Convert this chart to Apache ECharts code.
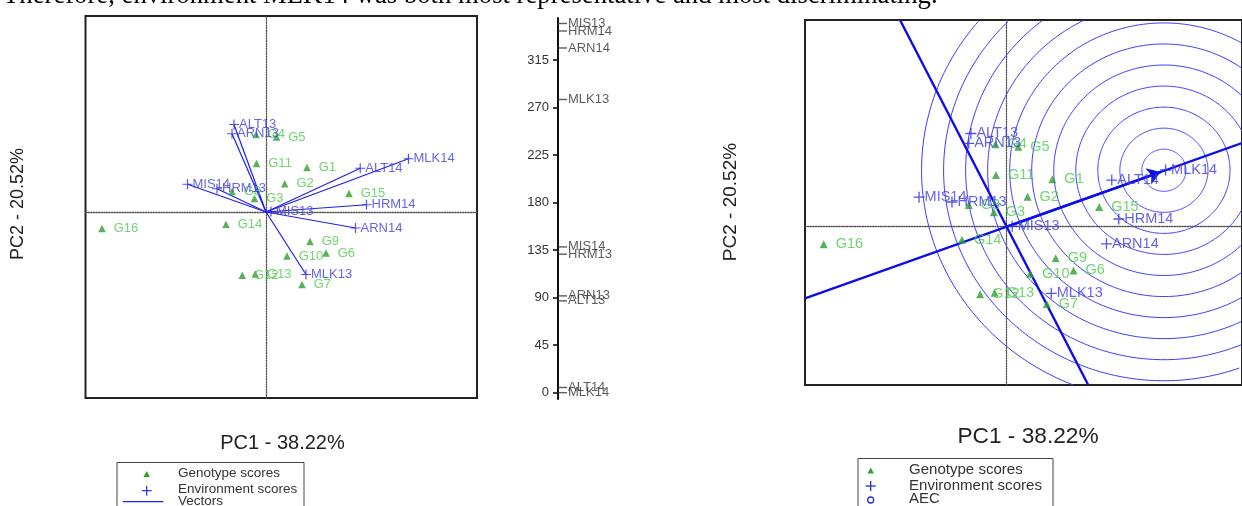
<!DOCTYPE html>
<html><head><meta charset="utf-8">
<script src="https://cdn.jsdelivr.net/npm/echarts@6/dist/echarts.min.js"></script>
<style>html,body{margin:0;padding:0;background:#fff}#c{width:1242px;height:506px}</style>
</head><body><div id="c"></div>
<script>
// ---------- data ----------
const genotypes = ['G1','G2','G3','G4','G5','G6','G7','G8','G9','G10','G11','G12','G13','G14','G15','G16'];
const genoPC1   = [0.82, 0.375, -0.23, -0.2, 0.21, 1.2, 0.72, -0.68, 0.88, 0.42, -0.19, -0.475, -0.215, -0.8, 1.66, -3.28];
const genoPC2   = [0.89, 0.565, 0.27, 1.55, 1.5, -0.82, -1.45, 0.41, -0.59, -0.88, 0.97, -1.265, -1.24, -0.245, 0.37, -0.33];

const environments = ['ALT13','ARN13','MIS14','HRM13','MIS13','ALT14','MLK14','HRM14','ARN14','MLK13'];
const envPC1 = [-0.64, -0.68, -1.57, -0.98, 0.1, 1.885, 2.85, 2.01, 1.79, 0.8];
const envPC2 = [1.75, 1.565, 0.555, 0.465, 0.01, 0.875, 1.065, 0.145, -0.32, -1.25];

// angles of environment vectors (middle ruler)
const angleEnvNames = ['MIS13','HRM14','ARN14','MLK13','MIS14','HRM13','ARN13','ALT13','ALT14','MLK14'];
const angleEnvValues = [349.8, 342.7, 326.6, 277.8, 138.1, 131.2, 91.7, 87.0, 4.9, 0];
const angleTicks = [0, 45, 90, 135, 180, 225, 270, 315];

// average-environment-coordination (AEC) elements
const aecIdeal = [2.82, 1.06];
const aecRingRadii = [0.395, 0.79, 1.185, 1.58, 1.975, 2.37, 2.765, 3.16, 3.555, 3.95, 4.345];
const aecAbscissa = [[-3.615, -1.345], [4.22, 1.57]];
const aecArrow = [[0, 0], [2.76, 1.027]];
const aecOrdinate = [[-1.911, 3.88], [1.463, -2.97]];

// ---------- chart ----------
const FONT = 'Arial, "Liberation Sans", sans-serif';
const GREEN_SYM = '#2f9f2f', GREEN_TXT = '#4ccb4c';
const BLUE_SYM = '#2a2ae6', BLUE_TXT = '#3c3ce0', BLUE_LINE = '#1f1ff0';
const PLUS = 'path://M0,4.4H10V5.6H0Z M4.4,0H5.6V10H4.4Z';

const genoData = genotypes.map((g, i) => ({name: g, value: [genoPC1[i], genoPC2[i]]}));
const envData = environments.map((e, i) => ({name: e, value: [envPC1[i], envPC2[i]]}));

function hiddenAxis(extra) {
  return Object.assign({
    type: 'value',
    axisLine: {onZero: true, lineStyle: {color: '#555', type: 'dotted', width: 1.3}},
    axisTick: {show: false}, axisLabel: {show: false}, splitLine: {show: false}
  }, extra);
}

function genoSeries(xi, fs, size) {
  return {
    type: 'scatter', xAxisIndex: xi, yAxisIndex: xi, z: 3,
    data: genoData, symbol: 'triangle', symbolSize: size,
    itemStyle: {color: GREEN_SYM},
    label: {show: true, formatter: '{b}', position: 'right', distance: 8,
      color: GREEN_TXT, fontSize: fs, fontFamily: FONT},
    emphasis: {disabled: true}, animation: false
  };
}
function envSeries(xi, fs, size) {
  return {
    type: 'scatter', xAxisIndex: xi, yAxisIndex: xi, z: 5,
    data: envData, symbol: PLUS, symbolSize: size,
    itemStyle: {color: BLUE_SYM},
    label: {show: true, formatter: '{b}', position: 'right', distance: 0,
      color: BLUE_TXT, fontSize: fs, fontFamily: FONT},
    emphasis: {disabled: true}, animation: false
  };
}

const option = {
  animation: false,
  backgroundColor: '#fff',
  grid: [
    {left: 85.5, top: 16, width: 391.5, height: 382, show: true, borderColor: '#222', borderWidth: 2},
    {left: 805, top: 20, width: 444, height: 365, show: true, borderColor: '#222', borderWidth: 2},
    {left: 558, top: 18, width: 40, height: 381, show: false}
  ],
  xAxis: [
    hiddenAxis({gridIndex: 0, min: -3.61, max: 4.22}),
    hiddenAxis({gridIndex: 1, min: -3.615, max: 4.22}),
    {gridIndex: 2, type: 'value', min: 0, max: 1, show: false}
  ],
  yAxis: [
    hiddenAxis({gridIndex: 0, min: -3.72, max: 3.92}),
    hiddenAxis({gridIndex: 1, min: -2.97, max: 3.88}),
    {gridIndex: 2, type: 'value', min: -6, max: 355, position: 'left',
      axisLine: {show: true, onZero: false, lineStyle: {color: '#111', width: 2}},
      axisTick: {show: true, length: 5, customValues: angleTicks, lineStyle: {color: '#111', width: 1.6}},
      axisLabel: {show: true, customValues: angleTicks, color: '#333', fontSize: 13, fontFamily: FONT, margin: 9},
      splitLine: {show: false}}
  ],
  series: [
    // left: vectors
    {
      type: 'lines', coordinateSystem: 'cartesian2d', xAxisIndex: 0, yAxisIndex: 0, z: 2,
      data: envData.map(d => ({coords: [[0, 0], d.value]})),
      lineStyle: {color: BLUE_LINE, width: 1.2, opacity: 1}, symbol: 'none', silent: true
    },
    genoSeries(0, 13, 7.5),
    envSeries(0, 13, 10),
    // middle angle ruler
    {
      type: 'scatter', xAxisIndex: 2, yAxisIndex: 2, z: 3,
      data: angleEnvNames.map((n, i) => ({name: n, value: [0, angleEnvValues[i]]})),
      symbol: 'rect', symbolSize: [9, 1.4], symbolOffset: [4.5, 0],
      itemStyle: {color: '#333'},
      label: {show: true, formatter: '{b}', position: 'right', distance: 1,
        color: '#333', fontSize: 13, fontFamily: FONT},
      emphasis: {disabled: true}, clip: false
    },
    // right: concentric rings
    {
      type: 'custom', xAxisIndex: 1, yAxisIndex: 1, z: 1, silent: true,
      data: aecRingRadii.map(r => [aecIdeal[0], aecIdeal[1], r]),
      renderItem: function (params, api) {
        const cs = params.coordSys;
        const c = api.coord([api.value(0), api.value(1)]);
        const s = api.size([api.value(2), api.value(2)]);
        const inside = p => p[0] >= cs.x && p[0] <= cs.x + cs.width && p[1] >= cs.y && p[1] <= cs.y + cs.height;
        const segs = []; let cur = [];
        const N = 360;
        for (let k = 0; k <= N; k++) {
          const t = k / N * Math.PI * 2;
          const p = [c[0] + s[0] * Math.cos(t), c[1] + s[1] * Math.sin(t)];
          if (inside(p)) cur.push(p); else { if (cur.length > 1) segs.push(cur); cur = []; }
        }
        if (cur.length > 1) segs.push(cur);
        return {type: 'group', children: segs.map(pts => ({
          type: 'polyline', shape: {points: pts},
          style: {fill: null, stroke: '#3a3aff', lineWidth: 1}
        }))};
      }
    },
    // right: AEC lines
    {
      type: 'lines', coordinateSystem: 'cartesian2d', xAxisIndex: 1, yAxisIndex: 1, z: 2, silent: true,
      data: [{coords: aecAbscissa}, {coords: aecOrdinate}],
      lineStyle: {color: '#0c0cf0', width: 2.4, opacity: 1}, symbol: 'none'
    },
    {
      type: 'lines', coordinateSystem: 'cartesian2d', xAxisIndex: 1, yAxisIndex: 1, z: 2, silent: true,
      data: [{coords: aecArrow}],
      lineStyle: {color: '#0c0cf0', width: 2.4, opacity: 1}, symbol: ['none', 'arrow'], symbolSize: 13
    },
    genoSeries(1, 14.5, 8),
    envSeries(1, 14.5, 11)
  ],
  graphic: [
    {type: 'text', x: 3, y: -4, silent: true,
      style: {text: 'Therefore, environment MLK14 was both most representative and most discriminating.',
        font: '26.7px "Liberation Serif", "Times New Roman", serif', fill: '#000', textAlign: 'left', verticalAlign: 'middle'}},
    // axis titles
    {type: 'text', x: 282.5, y: 443, silent: true,
      style: {text: 'PC1 - 38.22%', font: '20px ' + FONT, fill: '#222', textAlign: 'center', verticalAlign: 'middle'}},
    {type: 'text', x: 18, y: 204, rotation: Math.PI / 2, silent: true,
      style: {text: 'PC2 - 20.52%', font: '18px ' + FONT, fill: '#222', textAlign: 'center', verticalAlign: 'middle'}},
    {type: 'text', x: 1028, y: 437.5, scaleX: 1.064, silent: true,
      style: {text: 'PC1 - 38.22%', font: '21.3px ' + FONT, fill: '#222', textAlign: 'center', verticalAlign: 'middle'}},
    {type: 'text', x: 731, y: 202, rotation: Math.PI / 2, silent: true,
      style: {text: 'PC2 - 20.52%', font: '19px ' + FONT, fill: '#222', textAlign: 'center', verticalAlign: 'middle'}},
    // left legend
    {type: 'rect', silent: true, shape: {x: 117, y: 462.5, width: 187, height: 70},
      style: {fill: 'none', stroke: '#444', lineWidth: 1}},
    {type: 'polygon', silent: true, shape: {points: [[146.7, 471], [143.5, 477], [149.9, 477]]}, style: {fill: GREEN_SYM}},
    {type: 'text', x: 178, y: 473.5, silent: true, style: {text: 'Genotype scores', font: '13.5px ' + FONT, fill: '#333', verticalAlign: 'middle'}},
    {type: 'line', silent: true, shape: {x1: 141.7, y1: 490.7, x2: 151.7, y2: 490.7}, style: {stroke: BLUE_SYM, lineWidth: 1.2}},
    {type: 'line', silent: true, shape: {x1: 146.7, y1: 485.7, x2: 146.7, y2: 495.7}, style: {stroke: BLUE_SYM, lineWidth: 1.2}},
    {type: 'text', x: 178, y: 489, silent: true, style: {text: 'Environment scores', font: '13.5px ' + FONT, fill: '#333', verticalAlign: 'middle'}},
    {type: 'line', silent: true, shape: {x1: 122.7, y1: 501.7, x2: 163.3, y2: 501.7}, style: {stroke: BLUE_LINE, lineWidth: 1.2}},
    {type: 'text', x: 178, y: 501.5, silent: true, style: {text: 'Vectors', font: '13.5px ' + FONT, fill: '#333', verticalAlign: 'middle'}},
    // right legend
    {type: 'rect', silent: true, shape: {x: 858, y: 458.5, width: 195, height: 70},
      style: {fill: 'none', stroke: '#444', lineWidth: 1}},
    {type: 'polygon', silent: true, shape: {points: [[870.7, 467.5], [867.5, 473.5], [873.9, 473.5]]}, style: {fill: GREEN_SYM}},
    {type: 'text', x: 909, y: 470, scaleX: 1.06, silent: true, style: {text: 'Genotype scores', font: '14.2px ' + FONT, fill: '#333', verticalAlign: 'middle'}},
    {type: 'line', silent: true, shape: {x1: 865.7, y1: 486, x2: 875.7, y2: 486}, style: {stroke: BLUE_SYM, lineWidth: 1.3}},
    {type: 'line', silent: true, shape: {x1: 870.7, y1: 481, x2: 870.7, y2: 491}, style: {stroke: BLUE_SYM, lineWidth: 1.3}},
    {type: 'text', x: 909, y: 486.5, scaleX: 1.06, silent: true, style: {text: 'Environment scores', font: '14.2px ' + FONT, fill: '#333', verticalAlign: 'middle'}},
    {type: 'circle', silent: true, shape: {cx: 870.7, cy: 500, r: 3}, style: {fill: 'none', stroke: BLUE_SYM, lineWidth: 1.3}},
    {type: 'text', x: 909, y: 499, scaleX: 1.06, silent: true, style: {text: 'AEC', font: '14.2px ' + FONT, fill: '#333', verticalAlign: 'middle'}}
  ]
};
const chart = echarts.init(document.getElementById('c'), null, {renderer: 'canvas'});
chart.setOption(option);
</script>
</body></html>
